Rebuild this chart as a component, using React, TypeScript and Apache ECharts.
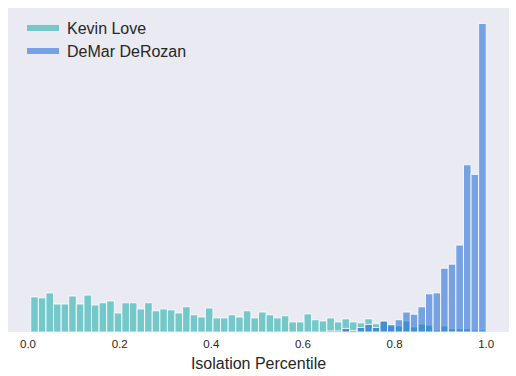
import React, { useEffect, useRef } from "react";
import * as echarts from "echarts";

// Histogram bins (shared by both players)
const binStart = 0.006;
const binEnd = 1.0;
const binCount = 60;

const seriesNames = ["Kevin Love", "DeMar DeRozan"];

// Bar heights per bin (arbitrary density units, tallest bar = 100)
const kevinLove = [
  11.4, 11.1, 12.7, 9.1, 9.1, 11.7, 9.1, 12.0, 8.8, 9.5,
  10.1, 6.2, 9.5, 9.5, 7.5, 9.5, 6.9, 7.5, 7.2, 6.2,
  8.2, 5.6, 4.9, 7.8, 4.6, 4.6, 5.6, 4.9, 6.9, 4.6,
  6.5, 5.6, 4.6, 5.3, 3.3, 3.3, 5.9, 4.0, 3.6, 4.6,
  3.3, 4.3, 3.3, 3.0, 4.3, 2.7, 3.5, 2.3, 2.0, 3.6,
  1.7, 2.6, 2.3, 0.7, 2.0, 1.1, 1.1, 1.1, 0.7, 0.7,
];
const demarDeRozan = [
  0, 0, 0, 0, 0, 0, 0, 0, 0, 0,
  0, 0, 0, 0, 0, 0, 0, 0, 0, 0,
  0, 0, 0, 0, 0, 0, 0, 0, 0, 0,
  0, 0, 0, 0, 0, 0, 0, 0, 0, 0.4,
  0.4, 1.2, 0.5, 1.5, 2.5, 1.5, 3.6, 2.4, 4.0, 6.5,
  5.8, 8.2, 12.4, 12.7, 20.7, 22.0, 28.2, 54.2, 51.1, 100.0,
];

const xTicks = [0.0, 0.2, 0.4, 0.6, 0.8, 1.0];
const xTitle = "Isolation Percentile";

const colors = ["rgba(20,172,167,0.55)", "rgba(21,101,215,0.55)"];

function toBins(values: number[]) {
  const w = (binEnd - binStart) / binCount;
  return values.map((v, i) => [binStart + i * w, binStart + (i + 1) * w, v]);
}

export default function App() {
  const ref = useRef<HTMLDivElement>(null);
  useEffect(() => {
    document.body.style.margin = "0";
    if (!ref.current) return;
    const chart = echarts.init(ref.current, undefined, { renderer: "svg" });
    const span = binEnd - binStart;
    const maxV = Math.max(...kevinLove, ...demarDeRozan);
    const font = "'Liberation Sans', Arial, 'DejaVu Sans', sans-serif";
    const mkSeries = (name: string, vals: number[], color: string) => ({
      type: "custom",
      name,
      data: toBins(vals),
      encode: { x: [0, 1], y: 2 },
      itemStyle: { color },
      renderItem: (params: any, api: any) => {
        const x0 = api.value(0);
        const x1 = api.value(1);
        const h = api.value(2);
        if (!(h > 0)) return null;
        const p0 = api.coord([x0, h]);
        const p1 = api.coord([x1, 0]);
        return {
          type: "rect",
          shape: { x: p0[0], y: p0[1], width: p1[0] - p0[0], height: p1[1] - p0[1] },
          style: { fill: color, stroke: "rgba(255,255,255,0.85)", lineWidth: 1 },
        };
      },
    });
    chart.setOption({
      animation: false,
      backgroundColor: "#ffffff",
      grid: { left: 8, right: 7, top: 8, bottom: 43, show: true, backgroundColor: "#EAEAF2", borderWidth: 0 },
      legend: {
        orient: "vertical",
        left: 22,
        top: 15,
        icon: "rect",
        itemWidth: 32,
        itemHeight: 6,
        itemGap: 7,
        data: seriesNames,
        itemStyle: { borderWidth: 0 },
        textStyle: { fontSize: 16, lineHeight: 16, color: "#262626", fontFamily: font, padding: [0, 0, 0, 3] },
      },
      xAxis: {
        type: "value",
        min: binStart - 0.05 * span,
        max: binEnd + 0.05 * span,
        axisLine: { show: false },
        axisTick: { show: false },
        splitLine: { show: false },
        axisLabel: {
          customValues: xTicks,
          formatter: (v: number) => v.toFixed(1),
          fontSize: 11.5,
          color: "#262626",
          fontFamily: font,
          margin: 6,
        },
        name: xTitle,
        nameLocation: "middle",
        nameGap: 19,
        nameTextStyle: { fontSize: 16, color: "#262626", fontFamily: font },
      },
      yAxis: {
        type: "value",
        min: 0,
        max: maxV * 1.05,
        show: false,
        splitLine: { show: false },
      },
      series: [
        mkSeries(seriesNames[0], kevinLove, colors[0]),
        mkSeries(seriesNames[1], demarDeRozan, colors[1]),
      ],
    });
    return () => chart.dispose();
  }, []);
  return <div ref={ref} style={{ width: 516, height: 376 }} />;
}
